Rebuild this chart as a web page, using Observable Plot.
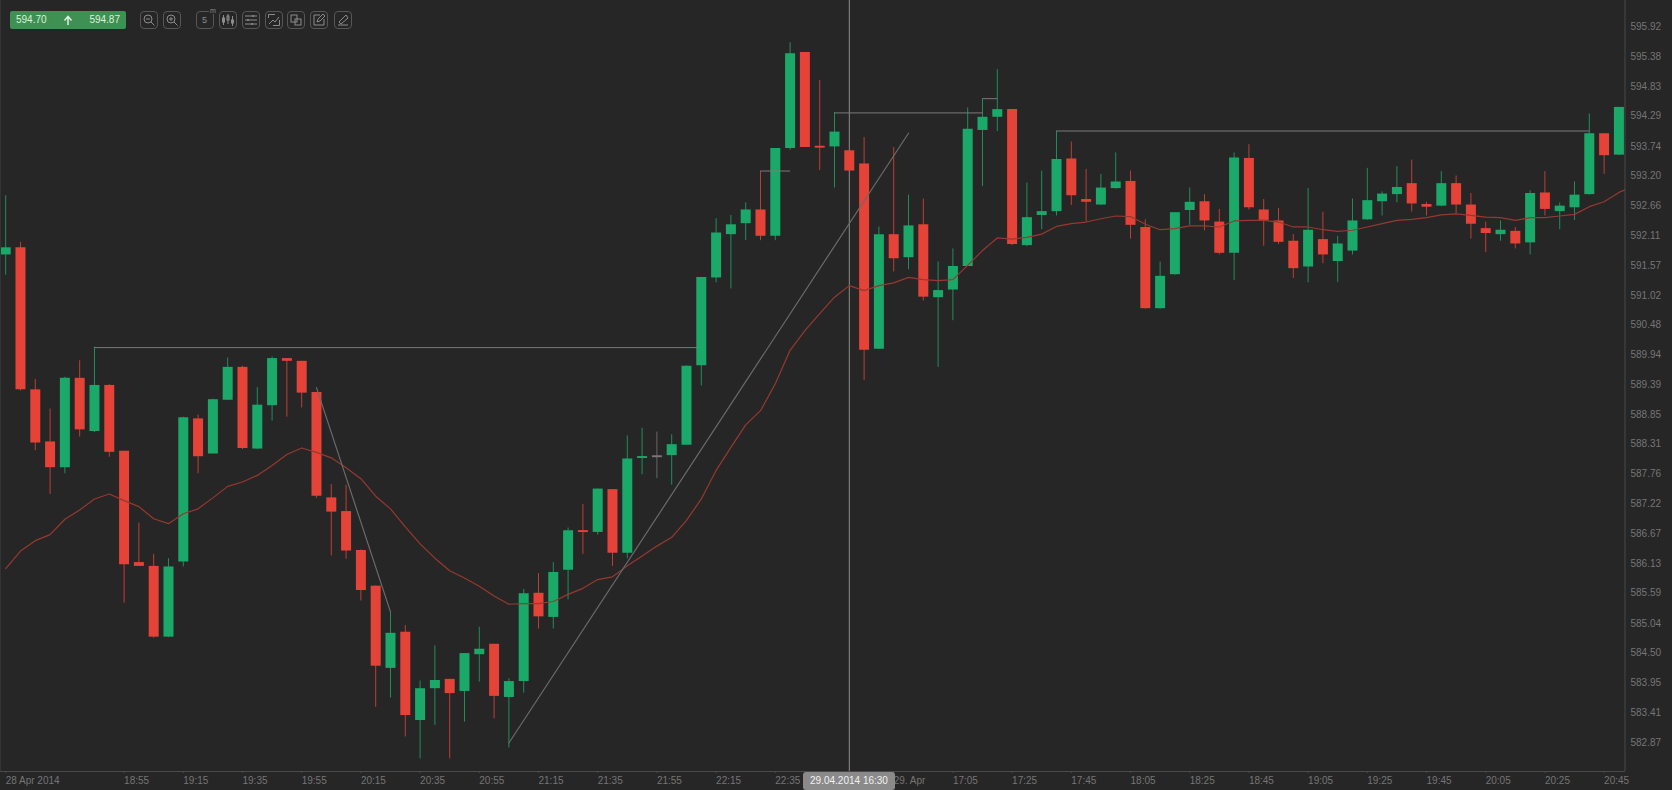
<!DOCTYPE html>
<html>
<head>
<meta charset="utf-8">
<script src="https://cdn.jsdelivr.net/npm/d3@7"></script>
<script src="https://cdn.jsdelivr.net/npm/@observablehq/plot@0.6"></script>
<style>
html,body{margin:0;padding:0;background:#262626;overflow:hidden}
#wrap{position:relative;width:1672px;height:790px;font-family:"Liberation Sans",Arial,sans-serif}
#wrap svg.plot{display:block}
#badge{position:absolute;left:10px;top:11px;width:116px;height:18px;background:#3e9152;border-radius:2px;color:#dcefdc;font-size:10px;line-height:18px}
#badge span{position:absolute;top:0}
.btn{position:absolute;top:11px;width:18px;height:18px;box-sizing:border-box;border:1px solid #565656;border-radius:4px}
.btn svg{position:absolute;left:0;top:0;display:block}
#stamp{position:absolute;left:803px;top:772px;width:92px;height:18px;background:#8a8a8a;border-radius:3px;color:#f2f2f2;font-size:10px;line-height:18px;text-align:center}
#leftEdge{position:absolute;left:0;top:0;width:1px;height:771px;background:#333333}
</style>
</head>
<body>
<div id="wrap"></div>
<script>
const opens = [591.76,591.89,589.30,588.35,587.88,589.51,588.54,589.38,588.18,586.15,586.08,584.79,586.16,588.77,588.13,589.11,589.71,588.22,589.01,589.87,589.82,589.25,587.33,587.08,586.37,585.72,584.22,584.88,583.27,583.85,584.02,583.80,584.47,584.66,583.69,583.98,585.59,585.15,586.01,586.73,586.70,587.48,586.32,588.05,588.08,588.10,588.29,589.74,591.34,592.13,592.33,592.58,592.10,593.70,595.45,593.74,593.73,593.66,593.42,590.04,592.13,591.71,592.31,590.98,591.12,591.55,594.03,594.27,594.41,591.93,592.48,592.55,593.51,592.77,592.67,592.97,593.10,592.26,590.78,591.40,592.57,592.73,592.36,591.79,593.52,592.58,592.38,592.01,591.54,592.04,591.64,591.83,592.40,592.73,592.86,593.06,592.68,592.65,593.06,592.67,592.24,592.13,592.19,591.98,592.89,592.55,592.62,592.86,593.97,593.58];
const closes = [591.89,589.30,588.33,587.88,589.51,588.57,589.38,588.16,586.11,586.08,584.79,586.07,588.79,588.08,589.12,589.71,588.23,589.02,589.87,589.82,589.24,587.36,587.07,586.36,585.64,584.26,584.86,583.36,583.85,584.00,583.76,584.49,584.57,583.71,583.98,585.58,585.16,585.97,586.73,586.70,587.49,586.32,588.04,588.08,588.08,588.30,589.73,591.35,592.16,592.31,592.58,592.10,593.70,595.43,593.72,593.71,594.00,593.29,590.02,592.13,591.69,592.29,590.99,591.11,591.55,594.05,594.27,594.41,591.95,592.44,592.55,593.50,592.84,592.72,592.98,593.09,592.30,590.78,591.37,592.53,592.72,592.38,591.79,593.53,592.62,592.39,591.99,591.51,592.21,591.76,591.96,592.38,592.75,592.87,592.99,592.69,592.63,593.06,592.67,592.32,592.15,592.21,591.96,592.88,592.59,592.65,592.85,593.97,593.57,594.45];
const highs = [592.84,591.99,589.49,588.95,589.53,589.83,590.08,589.40,588.18,586.87,586.30,586.22,588.80,588.84,589.13,589.88,589.73,589.34,589.90,589.87,589.82,589.25,587.57,587.56,586.38,585.72,585.26,585.00,583.99,584.63,584.02,584.49,584.97,584.66,584.03,585.66,585.95,586.15,586.78,587.21,587.49,587.48,588.46,588.60,588.53,588.48,589.74,591.35,592.42,592.48,592.71,593.29,593.70,595.63,595.45,594.94,594.36,593.66,593.90,592.27,593.72,592.85,592.78,591.63,591.87,594.44,594.61,595.14,594.41,593.07,593.29,594.02,593.82,593.32,593.23,593.62,593.29,592.40,591.63,592.53,592.98,592.86,592.59,593.62,593.77,592.77,592.61,592.13,592.97,592.54,592.10,592.78,593.34,592.91,593.37,593.49,592.72,593.28,593.20,592.88,592.36,592.38,592.26,592.93,593.28,592.71,593.09,594.33,593.97,594.45];
const lows = [591.39,589.28,588.19,587.39,587.77,588.44,588.52,588.07,585.41,586.08,584.77,584.78,586.07,587.77,588.13,589.11,588.21,588.21,588.73,588.80,588.97,587.32,586.27,586.21,585.45,583.51,583.68,582.97,582.57,583.18,582.57,583.24,583.97,583.30,582.77,583.77,584.94,584.94,585.47,586.30,586.65,586.08,586.22,587.75,587.68,587.56,588.29,589.37,591.25,591.14,592.02,592.02,592.02,593.67,593.72,593.30,592.98,593.29,589.47,590.04,591.45,591.49,590.92,589.71,590.56,591.55,593.01,594.01,591.93,591.91,592.22,592.47,592.66,592.36,592.66,592.96,592.05,590.77,590.77,591.39,592.30,592.20,591.76,591.29,592.58,591.92,591.95,591.33,591.25,591.60,591.26,591.76,592.39,592.47,592.71,592.54,592.47,592.64,592.51,592.05,591.80,592.01,591.87,591.76,592.47,592.22,592.39,592.85,593.23,593.57];
const movingAverage = [586.04,586.36,586.55,586.66,586.94,587.11,587.31,587.40,587.28,587.17,586.95,586.86,587.04,587.13,587.33,587.54,587.62,587.74,587.92,588.12,588.24,588.16,588.06,587.88,587.68,587.36,587.13,586.80,586.49,586.23,586.00,585.87,585.72,585.54,585.39,585.40,585.40,585.44,585.57,585.68,585.84,585.89,586.09,586.27,586.45,586.61,586.92,587.31,587.83,588.25,588.66,588.92,589.41,590.02,590.38,590.69,590.99,591.20,591.11,591.20,591.25,591.35,591.31,591.29,591.31,591.57,591.84,592.07,592.05,592.08,592.14,592.28,592.33,592.36,592.42,592.47,592.46,592.32,592.22,592.24,592.29,592.29,592.27,592.38,592.39,592.39,592.36,592.27,592.27,592.22,592.19,592.21,592.27,592.33,592.39,592.41,592.44,592.49,592.51,592.48,592.45,592.44,592.39,592.44,592.44,592.47,592.50,592.64,592.73,592.90,593.01];
const priceTicks = [595.92,595.38,594.83,594.29,593.74,593.20,592.66,592.11,591.57,591.02,590.48,589.94,589.39,588.85,588.31,587.76,587.22,586.67,586.13,585.59,585.04,584.50,583.95,583.41,582.87];
const timeTickBars = [0,8,12,16,20,24,28,32,36,40,44,48,52,60,64,68,72,76,80,84,88,92,96,100,104,108];
const timeTickLabels = ["28 Apr 2014","18:55","19:15","19:35","19:55","20:15","20:35","20:55","21:15","21:35","21:55","22:15","22:35","29. Apr","17:05","17:25","17:45","18:05","18:25","18:45","19:05","19:25","19:45","20:05","20:25","20:45"];
const levelBars1 = [6,51,56,66,71];
const levelBars2 = [47,53,66,67,107];
const levelPrices = [590.07,593.29,594.35,594.61,594.02];
const trendBars1 = [21,34];
const trendBars2 = [26,61];
const trendPrices1 = [589.34,582.86];
const trendPrices2 = [585.25,593.98];
const crosshairBar = 57;

const GREEN = "#1ba96a", RED = "#e54337", GRAY = "#777777";
const candles = opens.map((o,i)=>({i,o,c:closes[i],h:highs[i],l:lows[i],
  col: closes[i]>o?GREEN:closes[i]<o?RED:GRAY}));
const bodyEnds = d => {
  const lo=Math.min(d.o,d.c), hi=Math.max(d.o,d.c);
  if(hi-lo>=0.035) return [lo,hi];
  const m=(lo+hi)/2; return [m-0.0175,m+0.0175];
};
const ma = movingAverage.map((v,i)=>({i,v}));
const levels = levelPrices.map((p,k)=>({a:levelBars1[k],b:levelBars2[k],p}));
const trends = trendBars1.flatMap((a,k)=>[{k,x:a,y:trendPrices1[k]},{k,x:trendBars2[k],y:trendPrices2[k]}]);
const labelOf = new Map(timeTickBars.map((b,k)=>[b,timeTickLabels[k]]));

const chart = Plot.plot({
  width:1672,height:790,
  marginTop:0,marginLeft:0,marginRight:47,marginBottom:19,
  style:{background:"#262626",fontFamily:"'Liberation Sans',Arial,sans-serif",fontSize:"10px"},
  x:{type:"linear",domain:[-0.35,109.445]},
  y:{type:"linear",domain:[582.34,596.40]},
  marks:[
    Plot.ruleY([582.34],{stroke:"#4a4a4a"}),
    Plot.ruleX([109.41],{stroke:"#4a4a4a"}),
    Plot.ruleX([crosshairBar],{stroke:"#8c8c8c",strokeWidth:1}),
    Plot.ruleX(candles,{x:"i",y1:"l",y2:"h",stroke:"col",strokeWidth:1,strokeOpacity:0.8}),
    Plot.ruleX(candles,{x:"i",y1:d=>bodyEnds(d)[0],y2:d=>bodyEnds(d)[1],stroke:"col",strokeWidth:10}),
    Plot.line(ma,{x:"i",y:"v",stroke:"#96392f",strokeWidth:1.2,clip:true}),
    Plot.link(levels,{x1:"a",x2:"b",y1:"p",y2:"p",stroke:"#7a7a7a",strokeWidth:1}),
    Plot.line(trends,{x:"x",y:"y",z:"k",stroke:"#6a6a6a",strokeWidth:1.2}),
    Plot.axisY({anchor:"right",ticks:priceTicks,tickSize:0,tickPadding:5,label:null,
      tickFormat:d=>d.toFixed(2),fill:"#757575",fontSize:10}),
    Plot.axisX({anchor:"bottom",ticks:timeTickBars,tickSize:2,tickPadding:3,label:null,
      tickFormat:d=>labelOf.get(d),textAnchor:"start",stroke:"#4a4a4a",fill:"#757575",fontSize:10})
  ]
});
const wrap = document.getElementById("wrap");
wrap.appendChild(chart);

const ic = (body)=>`<svg width="16" height="16" viewBox="0 0 16 16" fill="none" stroke="#8c8c8c" stroke-width="1">${body}</svg>`;
const icons = [
 [140,ic('<circle cx="7" cy="7" r="4"/><path d="M10 10l3.5 3.5M5 7h4"/>')],
 [163,ic('<circle cx="7" cy="7" r="4"/><path d="M10 10l3.5 3.5M5 7h4M7 5v4"/>')],
 [196,'<span style="position:absolute;left:5px;top:2px;color:#8c8c8c;font-size:9px;line-height:12px">5</span><span style="position:absolute;left:12px;top:-5px;color:#8c8c8c;font-size:7px;background:#262626;padding:0 1px">m</span>'],
 [219,ic('<path d="M3.5 3v10M8 2v10M12.5 4v10"/><rect x="2.5" y="6" width="2" height="4"/><rect x="7" y="4" width="2" height="4"/><rect x="11.5" y="8" width="2" height="3"/>')],
 [242,ic('<path d="M2 4h12M2 8h12M2 12h12"/><path d="M10 3v2M5 7v2M9 11v2" stroke-width="1.5"/>')],
 [265,ic('<path d="M2.5 6V2.5H9M13.5 8v5.5H7"/><path d="M3 12l4-4 2 2 4-5"/>')],
 [287,ic('<rect x="3" y="3" width="6" height="7"/><rect x="7" y="7" width="6" height="6"/>')],
 [310,ic('<path d="M9 3H3v10h10V7"/><path d="M6 10l1-3 5-5 2 2-5 5z"/>')],
 [334,ic('<path d="M3 13h10"/><path d="M4 10l2 2 7-6-2-3z"/>')]
];
icons.forEach(([x,html])=>{
  const d=document.createElement("div");d.className="btn";d.style.left=x+"px";d.innerHTML=html;wrap.appendChild(d);
});
const add=(id,html)=>{const d=document.createElement("div");d.id=id;d.innerHTML=html;wrap.appendChild(d);};
add("leftEdge","");
add("badge",'<span style="left:6px">594.70</span><span style="left:52px;top:0"><svg width="12" height="18" viewBox="0 0 12 18" fill="none" stroke="#dcefdc" stroke-width="1.5" style="display:block"><path d="M6 14V6M2.5 9.5L6 5.5l3.5 4"/></svg></span><span style="right:6px">594.87</span>');
add("stamp","29.04.2014 16:30");
</script>
</body>
</html>
